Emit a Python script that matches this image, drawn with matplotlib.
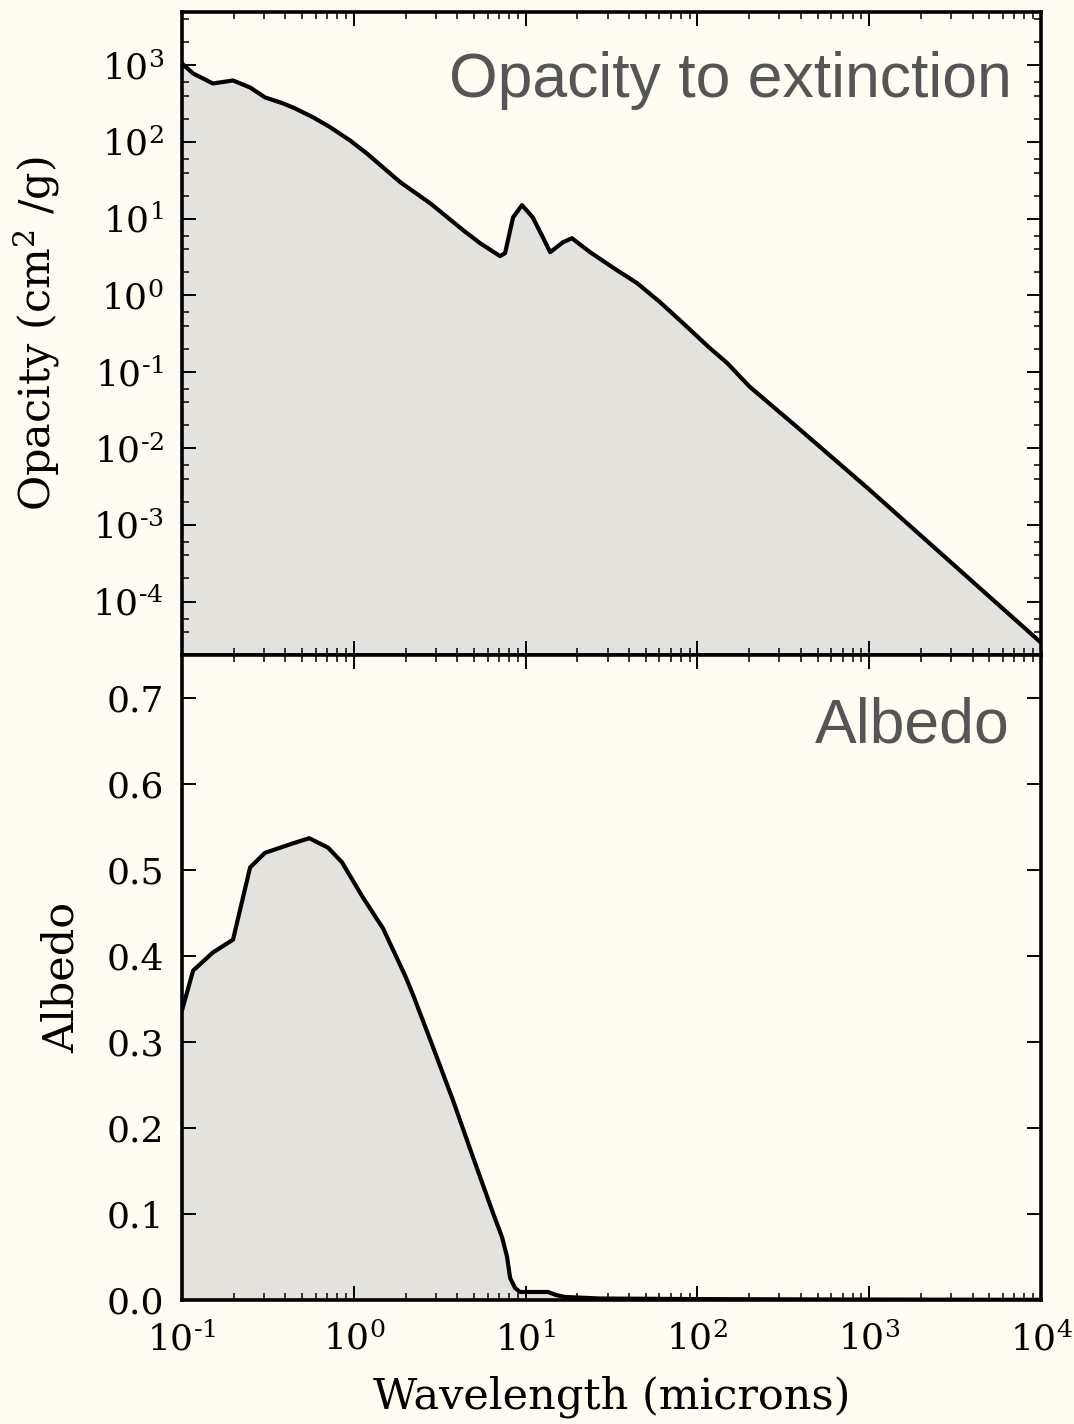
import numpy as np
import matplotlib
matplotlib.use('Agg')
import matplotlib.pyplot as plt
import matplotlib.ticker as mticker

plt.rcParams['font.family'] = 'DejaVu Serif'
plt.rcParams['mathtext.fontset'] = 'dejavuserif'
plt.rcParams['axes.unicode_minus'] = False

# ── Data ─────────────────────────────────────────────────────────────────────
# opacity to extinction, cm^2/g
wl_opac = [0.1, 0.116, 0.151, 0.198, 0.249, 0.304, 0.387, 0.455, 0.58, 0.726,
           0.95, 1.19, 1.86, 2.78, 4.33, 5.43, 7.10, 7.59, 8.45, 9.53, 11.0,
           12.6, 13.9, 16.5, 18.6, 23.7, 34.0, 44.5, 60.5, 82.4, 118, 149,
           202, 290, 380, 1000, 10000]
opacity = [1060, 787, 582, 637, 516, 383, 320, 275, 210, 157,
           105, 71, 30, 15.9, 7.06, 4.78, 3.24, 3.54, 10.4, 15.0, 10.4,
           5.7, 3.65, 4.92, 5.55, 3.65, 2.12, 1.44, 0.813, 0.432, 0.204, 0.130,
           0.0634, 0.0318, 0.019, 2.9e-3, 2.9e-5]
opac_decades = [-4, -3, -2, -1, 0, 1, 2, 3]

# albedo
wl_alb = [0.1, 0.116, 0.151, 0.198, 0.249, 0.304, 0.442, 0.55, 0.708, 0.853,
          1.13, 1.48, 1.63, 1.99, 2.21, 2.89, 3.78, 4.94, 6.46, 7.29, 7.80,
          8.12, 8.68, 9.27, 13.5, 15.0, 16.9, 27, 103, 1000, 10000]
albedo = [0.337, 0.383, 0.404, 0.419, 0.503, 0.520, 0.531, 0.537, 0.526, 0.509,
          0.468, 0.432, 0.414, 0.377, 0.355, 0.294, 0.232, 0.166, 0.101, 0.073,
          0.050, 0.0256, 0.0139, 0.0093, 0.0093, 0.0058, 0.0035, 0.0017, 0.001,
          0.0005, 0.0002]
wl_decades = [-1, 0, 1, 2, 3, 4]

# ── Style ────────────────────────────────────────────────────────────────────
bg = '#fffcf4'
fill_col = '#e4e2dc'
title_col = '#555555'
TICK = 26
LABEL = 31


def log_label(v, _):
    e = int(round(np.log10(v)))
    if e < 0:
        return r'$10^{\text{-}%d}$' % (-e)
    return r'$10^{%d}$' % e


def style(ax):
    ax.set_facecolor(bg)
    for s in ax.spines.values():
        s.set_linewidth(2.6)
    ax.tick_params(which='both', direction='in', top=True, right=True,
                   labelsize=TICK)
    ax.tick_params(axis='y', pad=13)
    ax.tick_params(axis='x', pad=16)
    ax.tick_params(which='major', length=10, width=1.4)
    ax.tick_params(which='minor', length=5, width=1.1)


fig = plt.figure(figsize=(10.74, 14.24), dpi=100)
fig.patch.set_facecolor(bg)

ax1 = fig.add_axes([0.1695, 0.540, 0.7998, 0.4516])
ax2 = fig.add_axes([0.1695, 0.0871, 0.7998, 0.4529], sharex=ax1)

# top panel
ax1.fill_between(wl_opac, opacity, 1e-8, color=fill_col, lw=0)
ax1.plot(wl_opac, opacity, color='black', lw=3)
ax1.set_xscale('log')
ax1.set_yscale('log')
ax1.set_xlim(0.1, 1e4)
ax1.set_ylim(2e-5, 5e3)
ax1.yaxis.set_major_locator(mticker.FixedLocator([10.0 ** e for e in opac_decades]))
ax1.yaxis.set_minor_locator(mticker.LogLocator(base=10, subs=(2, 4, 6), numticks=20))
ax1.yaxis.set_major_formatter(mticker.FuncFormatter(log_label))
ax1.yaxis.set_minor_formatter(mticker.NullFormatter())
style(ax1)
ax1.tick_params(labelbottom=False)
ax1.set_ylabel(r'Opacity (cm$^2$ /g)', fontsize=LABEL)
ax1.yaxis.set_label_coords(-0.140, 0.5)
ax1.text(0.966, 0.868, 'Opacity to extinction', transform=ax1.transAxes,
         ha='right', va='baseline', fontsize=45, color=title_col,
         family='Liberation Sans')

# bottom panel
ax2.fill_between(wl_alb, albedo, 0, color=fill_col, lw=0)
ax2.plot(wl_alb, albedo, color='black', lw=3)
ax2.set_ylim(0, 0.75)
ax2.yaxis.set_major_locator(mticker.MultipleLocator(0.1))
ax2.yaxis.set_major_formatter(mticker.FormatStrFormatter('%.1f'))
ax2.xaxis.set_major_locator(mticker.FixedLocator([10.0 ** e for e in wl_decades]))
ax2.xaxis.set_minor_locator(mticker.LogLocator(base=10, subs=np.arange(2, 10), numticks=20))
ax2.xaxis.set_major_formatter(mticker.FuncFormatter(log_label))
ax2.xaxis.set_minor_formatter(mticker.NullFormatter())
style(ax2)
ax2.set_ylabel('Albedo', fontsize=LABEL)
ax2.yaxis.set_label_coords(-0.116, 0.5)
ax2.set_xlabel('Wavelength (microns)', fontsize=LABEL)
ax2.xaxis.set_label_coords(0.5, -0.117)
ax2.text(0.964, 0.865, 'Albedo', transform=ax2.transAxes,
         ha='right', va='baseline', fontsize=45, color=title_col,
         family='Liberation Sans')

fig.savefig('out.png', dpi=100, facecolor=bg)
